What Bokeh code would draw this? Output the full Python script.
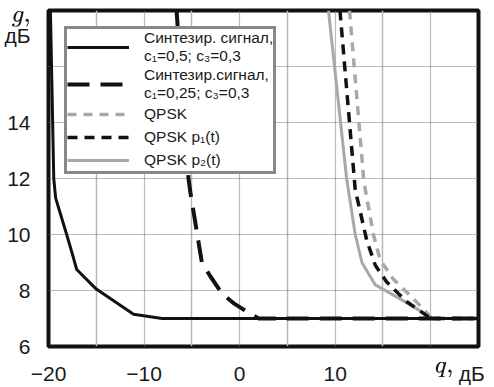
from bokeh.plotting import figure
from bokeh.models import Range1d, FixedTicker, Grid, Legend, LegendItem, TeX
from bokeh.embed import file_html
from bokeh.resources import INLINE

# ---- data ----
synth1_x = [-19.8, -19.45, -19.25, -18.1, -17.5, -17.05, -15.0, -11.1, -8.1, 25.0]
synth1_y = [18.0, 12.0, 11.3, 10.0, 9.3, 8.75, 8.05, 7.15, 7.0, 7.0]

synth2_x = [-6.6, -5.35, -5.15, -3.95, -3.05, -1.85, -0.65, 1.1, 2.0, 25.0]
synth2_y = [18.0, 12.0, 11.5, 9.0, 8.5, 7.9, 7.55, 7.17, 7.0, 7.0]

qpsk_x = [11.5, 13.0, 14.0, 14.7, 16.1, 18.2, 19.6, 20.1]
qpsk_y = [18.0, 11.9, 10.0, 9.1, 8.4, 7.7, 7.2, 7.0]

qpsk_p1_x = [10.5, 12.1, 13.3, 14.2, 15.4, 17.5, 20.0, 25.0]
qpsk_p1_y = [18.0, 11.6, 9.8, 8.9, 8.3, 7.6, 7.0, 7.0]

qpsk_p2_x = [9.3, 11.2, 12.1, 12.8, 14.2, 16.8, 19.4, 20.0]
qpsk_p2_y = [18.0, 12.0, 10.0, 9.0, 8.2, 7.7, 7.17, 7.0]

x_ticks = [-20, -10, 0, 10]
y_ticks = [6, 8, 10, 12, 14]
x_grid_major = [-10, 0, 10, 20]
x_grid_minor = [-15, -5, 5, 15]
y_grid = [8, 10, 12, 14, 16]

# axis-title slots (placed where the reference writes "g, дБ" and "q, дБ")
y_title_ticks = {17.12: "дБ", 17.58: "g,"}
x_title_ticks = {21.4: "q,", 24.3: "дБ"}

labels = ["Синтезир. сигнал,\nc\u2081=0,5; c\u2083=0,3",
          "Синтезир.сигнал,\nc\u2081=0,25; c\u2083=0,3",
          "QPSK", "QPSK p\u2081(t)", "QPSK p\u2082(t)"]

FONT = "Liberation Sans"
TXT = "#1a1a1a"
GRAY = "#a8a8a8"

p = figure(width=494, height=387, output_backend="svg", toolbar_location=None,
           x_range=Range1d(-20, 25), y_range=Range1d(6, 18),
           min_border_left=48, min_border_right=16, min_border_top=10,
           min_border_bottom=35)
p.background_fill_color = "white"
p.border_fill_color = "white"
p.outline_line_color = "#111111"
p.outline_line_width = 4

p.xgrid.visible = False
p.ygrid.visible = False

g1 = Grid(dimension=0, ticker=FixedTicker(ticks=x_grid_minor),
          grid_line_color="#b8b8b8", grid_line_width=1.5)
g2 = Grid(dimension=0, ticker=FixedTicker(ticks=x_grid_major),
          grid_line_color="#777777", grid_line_width=1.2, grid_line_dash="1 1")
g3 = Grid(dimension=1, ticker=FixedTicker(ticks=y_grid),
          grid_line_color="#777777", grid_line_width=1.2, grid_line_dash="1 1")
for g in (g1, g2, g3):
    p.add_layout(g)

TEX_LABELS = {"g,": r"g{,}", "q,": r"q{,}"}


def overrides(d):
    return {k: (TeX(TEX_LABELS[v]) if v in TEX_LABELS else v) for k, v in d.items()}


xa, ya = p.xaxis[0], p.yaxis[0]
xa.ticker = FixedTicker(ticks=x_ticks + list(x_title_ticks))
ya.ticker = FixedTicker(ticks=y_ticks + list(y_title_ticks))
xa.major_label_overrides = overrides(x_title_ticks)
ya.major_label_overrides = overrides(y_title_ticks)
for ax in (xa, ya):
    ax.axis_line_color = None
    ax.major_tick_line_color = None
    ax.minor_tick_line_color = None
    ax.major_label_text_font = FONT
    ax.major_label_text_font_size = "21px"
    ax.major_label_text_color = TXT
xa.major_label_standoff = 9
ya.major_label_standoff = 12

r_p2 = p.line(qpsk_p2_x, qpsk_p2_y, line_color=GRAY, line_width=3)
r_q = p.line(qpsk_x, qpsk_y, line_color=GRAY, line_width=3.5, line_dash="9 7")
r_p1 = p.line(qpsk_p1_x, qpsk_p1_y, line_color="#111111", line_width=3.5, line_dash="10 7")
r_s2 = p.line(synth2_x, synth2_y, line_color="#111111", line_width=4, line_dash="22 11")
r_s1 = p.line(synth1_x, synth1_y, line_color="#111111", line_width=3)

legend = Legend(items=[LegendItem(label=labels[0], renderers=[r_s1]),
                       LegendItem(label=labels[1], renderers=[r_s2]),
                       LegendItem(label=labels[2], renderers=[r_q]),
                       LegendItem(label=labels[3], renderers=[r_p1]),
                       LegendItem(label=labels[4], renderers=[r_p2])],
                location="top_left", margin=16, padding=0,
                border_line_color="#111111", border_line_width=3,
                background_fill_color="white", background_fill_alpha=1.0,
                label_text_font=FONT, label_text_font_size="15.5px",
                label_text_color=TXT, label_standoff=15,
                glyph_width=62, glyph_height=22, spacing=1,
                label_text_line_height=1.12)
p.add_layout(legend, "center")

open("out.html", "w").write(file_html(p, INLINE))
